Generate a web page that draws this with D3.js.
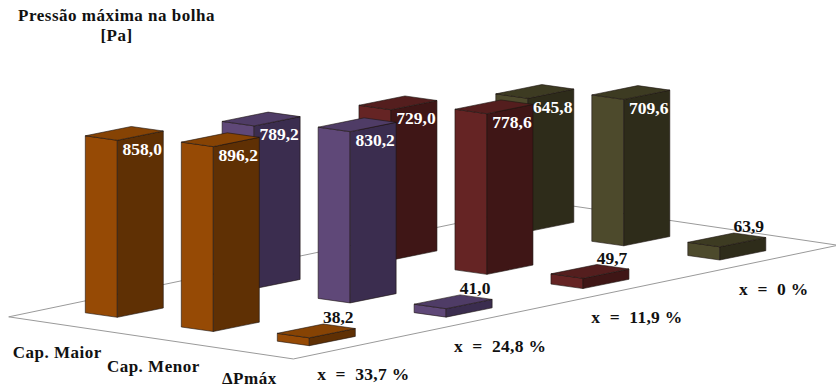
<!DOCTYPE html>
<html>
<head>
<meta charset="utf-8">
<script src="https://cdn.jsdelivr.net/npm/d3@7"></script>
<style>
  html, body { margin: 0; padding: 0; background: #fff; }
  svg { display: block; }
  text { font-family: "Liberation Serif", serif; font-weight: bold; white-space: pre; }
</style>
</head>
<body>
<svg id="chart" width="836" height="388"></svg>
<script>
// Maximum bubble pressure per composition, oblique 3D column chart
const compositions = ["x  =  33,7 %", "x  =  24,8 %", "x  =  11,9 %", "x  =  0 %"];
const categories = ["Cap. Maior", "Cap. Menor", "ΔPmáx"];
const capMaior = [858.0, 789.2, 729.0, 645.8];
const capMenor = [896.2, 830.2, 778.6, 709.6];
const deltaP = [38.2, 41.0, 49.7, 63.9];
const seriesValues = [capMaior, capMenor, deltaP];
const titleLines = ["Pressão máxima na bolha", "[Pa]"];

// front, side, top shades for each composition
const faceColours = [
  { front: "#964a05", side: "#5f3004", top: "#864304" },
  { front: "#5f4878", side: "#3b2d4f", top: "#4f3c66" },
  { front: "#652424", side: "#3f1616", top: "#541e1e" },
  { front: "#4d4a2c", side: "#2e2c1a", top: "#3d3b22" }
];

const svg = d3.select("#chart");

// The floor is a plane with two ground axes, each projected to a screen vector.
const compX = d3.scaleLinear().domain([0, 3]).range([0, 410.5]);
const compY = d3.scaleLinear().domain([0, 3]).range([0, -85.7]);
const catX = d3.scaleLinear().domain([0, 2]).range([0, 192]);
const catY = d3.scaleLinear().domain([0, 2]).range([0, 28.4]);
const height = d3.scaleLinear().domain([0, 1000]).range([0, 206.3]);

const originX = 117.3, originY = 317.3;
const ground = (comp, cat) => [originX + compX(comp) + catX(cat), originY + compY(comp) + catY(cat)];

// Footprint of a column relative to its nearest corner
const leftRun = [-32, -4.5];
const rightRun = [46, -9.3];

// Floor outline, extended from the column grid by fractional axis positions
const floorCorners = [
  ground(-0.32, -0.675), ground(-0.32, 2.29), ground(3.66, 2.29), ground(3.66, -0.675)
];
const floorLine = d3.line();
svg.append("path")
  .attr("d", floorLine(floorCorners) + "Z")
  .attr("fill", "#fff")
  .attr("stroke", "#9a9a9a")
  .attr("stroke-width", 1);

const bars = [];
seriesValues.forEach((values, cat) => {
  values.forEach((value, comp) => bars.push({ cat, comp, value }));
});
// Paint far columns first so nearer ones overlap them
bars.sort((a, b) => a.cat - b.cat || b.comp - a.comp);

const shift = (p, d, k = 1) => [p[0] + d[0] * k, p[1] + d[1] * k];

const column = svg.append("g").selectAll("g").data(bars).join("g");

const faceStroke = "#1d1410";
function face(kind, cornersOf) {
  column.append("path")
    .attr("d", d => floorLine(cornersOf(d)) + "Z")
    .attr("fill", d => faceColours[d.comp][kind])
    .attr("stroke", faceStroke)
    .attr("stroke-width", 0.6)
    .attr("stroke-linejoin", "round");
}

const base = d => ground(d.comp, d.cat);
const rise = d => [0, -height(d.value)];

face("front", d => {
  const b = base(d), l = shift(b, leftRun), r = rise(d);
  return [b, l, shift(l, r), shift(b, r)];
});
face("side", d => {
  const b = base(d), e = shift(b, rightRun), r = rise(d);
  return [b, e, shift(e, r), shift(b, r)];
});
face("top", d => {
  const t = shift(base(d), rise(d));
  return [t, shift(t, leftRun), shift(shift(t, leftRun), rightRun), shift(t, rightRun)];
});

// Value labels: white on the tall columns, black above the short ones
const valueText = v => d3.format(".1f")(v).replace(".", ",");
svg.append("g").selectAll("text").data(bars).join("text")
  .attr("x", d => base(d)[0] + (d.cat === 2 ? 29 : 25))
  .attr("y", d => {
    const topY = base(d)[1] - height(d.value);
    return d.cat === 2 ? topY - 14.7 : topY + 14.5;
  })
  .attr("text-anchor", "middle")
  .attr("font-size", 17.5)
  .attr("fill", d => d.cat === 2 ? "#111" : "#fff")
  .text(d => valueText(d.value));

// Axis labels along the two front edges of the floor; the lowest stays inside the frame
svg.append("g").selectAll("text").data(categories).join("text")
  .attr("x", (d, i) => ground(0, i)[0] - 60)
  .attr("y", (d, i) => Math.min(ground(0, i)[1] + 40.7, 384))
  .attr("text-anchor", "middle")
  .attr("font-size", 17)
  .attr("letter-spacing", 0.5)
  .attr("fill", "#111")
  .text(d => d);

svg.append("g").selectAll("text").data(compositions).join("text")
  .attr("x", (d, i) => ground(i, 2)[0] + 54)
  .attr("y", (d, i) => ground(i, 2)[1] + 34.5)
  .attr("text-anchor", "middle")
  .attr("font-size", 17.5)
  .attr("letter-spacing", 0.3)
  .attr("fill", "#111")
  .text(d => d);

// Chart title
svg.append("g").selectAll("text").data(titleLines).join("text")
  .attr("x", 116.5)
  .attr("y", (d, i) => 21 + i * 20)
  .attr("text-anchor", "middle")
  .attr("font-size", 17)
  .attr("letter-spacing", 0.5)
  .attr("fill", "#111")
  .text(d => d);
</script>
</body>
</html>
